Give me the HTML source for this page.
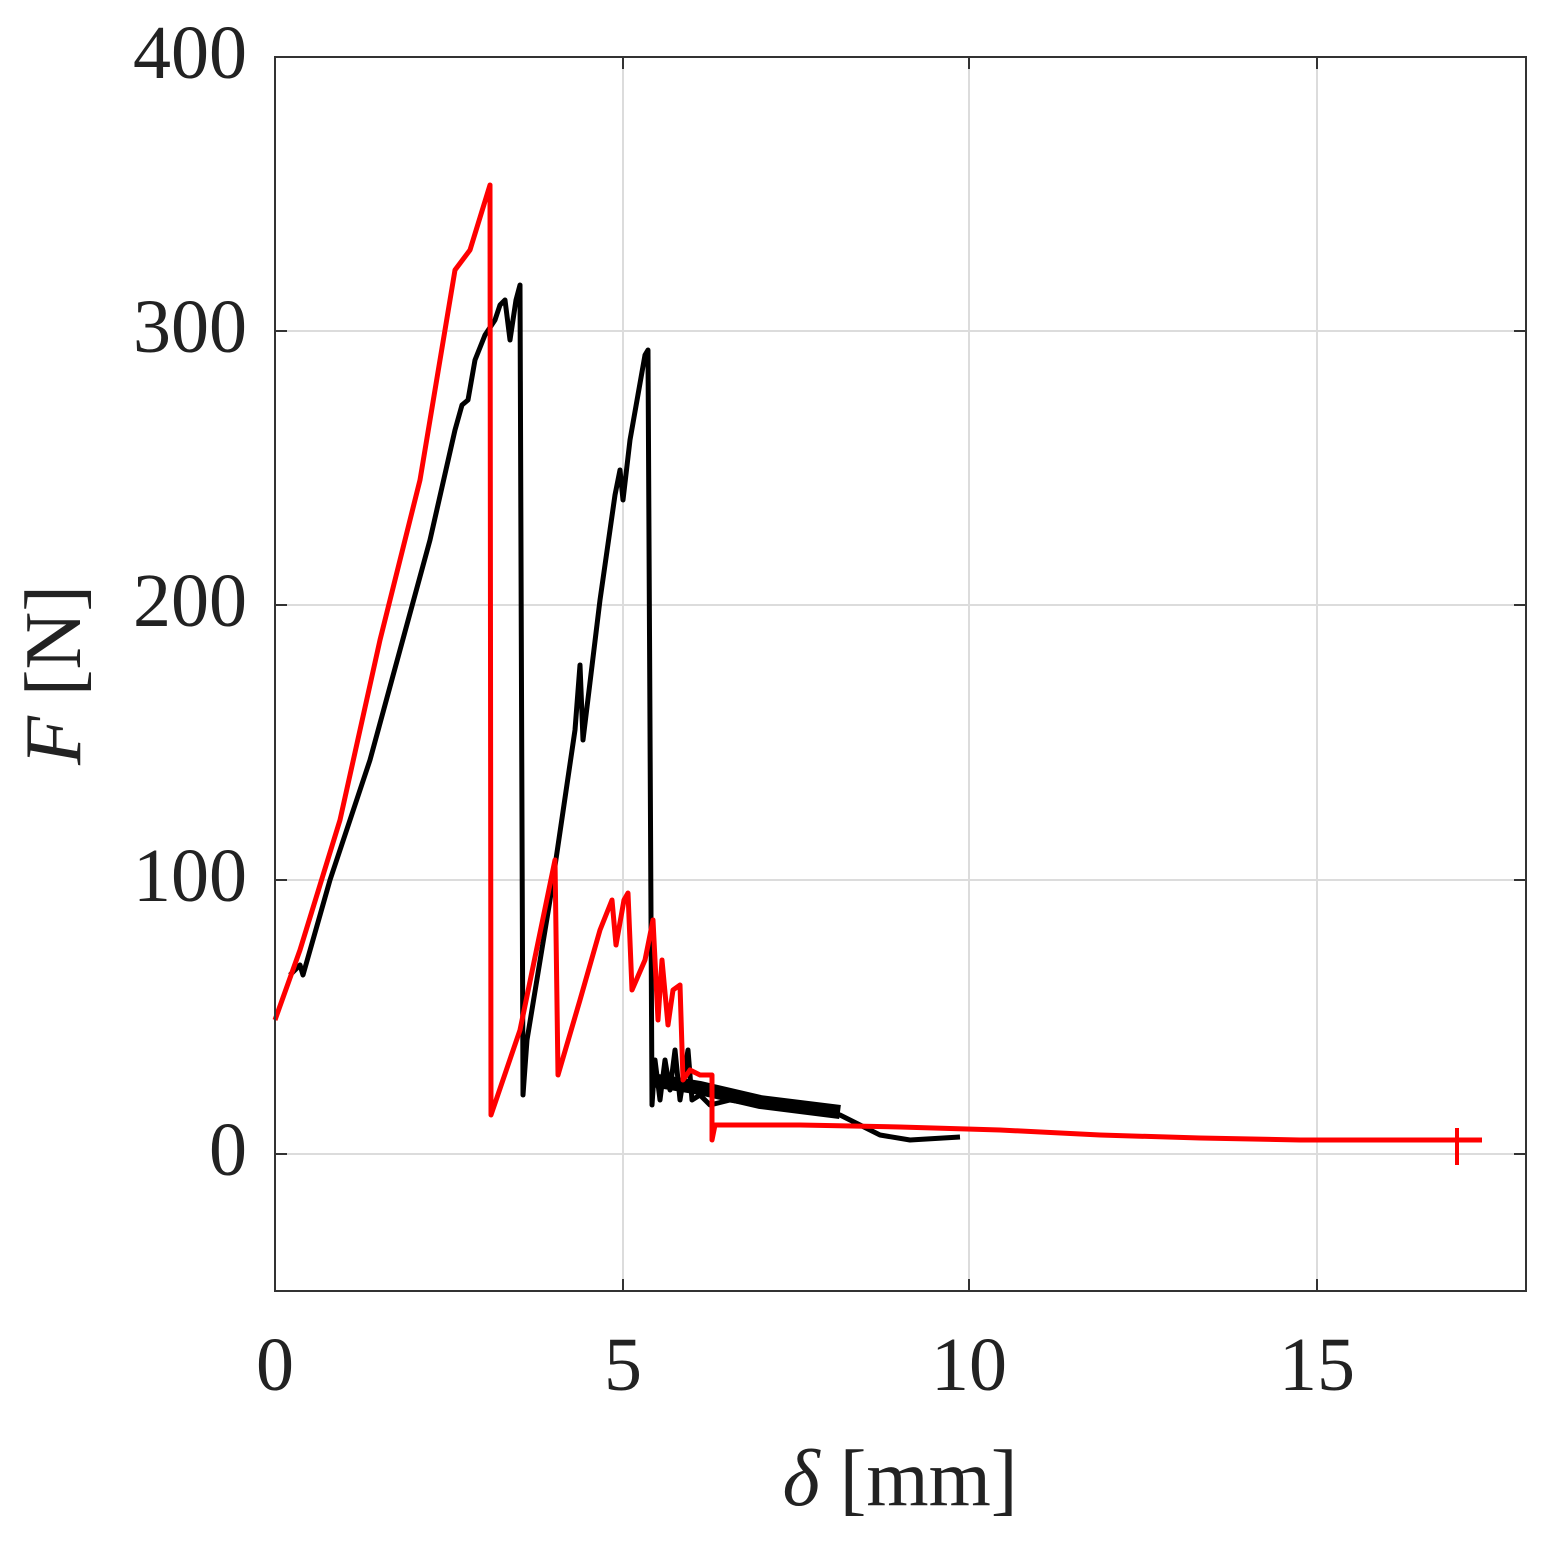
<!DOCTYPE html>
<html><head><meta charset="utf-8"><style>
html,body{margin:0;padding:0;background:#fff;}
svg{display:block;}
text{font-family:"Liberation Serif",serif;fill:#222;}
</style></head><body>
<svg width="1546" height="1552" viewBox="0 0 1546 1552" xmlns="http://www.w3.org/2000/svg">
<rect width="1546" height="1552" fill="#fff"/>
<g stroke="#dcdcdc" stroke-width="2">
<line x1="623" y1="57" x2="623" y2="1291"/>
<line x1="969" y1="57" x2="969" y2="1291"/>
<line x1="1317" y1="57" x2="1317" y2="1291"/>
<line x1="275" y1="331" x2="1526" y2="331"/>
<line x1="275" y1="605" x2="1526" y2="605"/>
<line x1="275" y1="880" x2="1526" y2="880"/>
<line x1="275" y1="1154" x2="1526" y2="1154"/>
</g>
<g stroke="#333" stroke-width="2">
<line x1="623" y1="1291" x2="623" y2="1279"/><line x1="969" y1="1291" x2="969" y2="1279"/><line x1="1317" y1="1291" x2="1317" y2="1279"/>
<line x1="623" y1="57" x2="623" y2="69"/><line x1="969" y1="57" x2="969" y2="69"/><line x1="1317" y1="57" x2="1317" y2="69"/>
<line x1="275" y1="331" x2="287" y2="331"/><line x1="275" y1="605" x2="287" y2="605"/><line x1="275" y1="880" x2="287" y2="880"/><line x1="275" y1="1154" x2="287" y2="1154"/>
<line x1="1526" y1="331" x2="1514" y2="331"/><line x1="1526" y1="605" x2="1514" y2="605"/><line x1="1526" y1="880" x2="1514" y2="880"/><line x1="1526" y1="1154" x2="1514" y2="1154"/>
</g>
<polyline fill="none" stroke="#000" stroke-width="5" stroke-linejoin="round" points="290,975 300,965 303,975 330,880 370,760 400,650 430,540 455,430 462,405 468,400 475,360 485,335 495,320 500,305 505,300 510,340 516,300 520,285 523,1095 527,1040 550,900 575,730 580,665 583,740 600,600 615,495 620,470 623,500 630,440 645,355 648,350 652,1105 655,1060 660,1100 665,1060 670,1090 675,1050 680,1100 688,1050 692,1100 700,1095 710,1105 730,1100 760,1105 800,1110 840,1115 880,1135 910,1140 960,1137"/>
<polyline fill="none" stroke="#000" stroke-width="14" points="652,1080 700,1088 760,1102 840,1112"/>
<polyline fill="none" stroke="#f00" stroke-width="5" stroke-linejoin="round" points="275,1020 300,950 340,820 380,640 420,480 445,330 455,270 470,250 490,185 491,1115 520,1030 555,860 558,1075 580,1000 600,930 612,900 616,945 624,900 628,893 632,990 645,960 653,920 658,1020 662,960 668,1025 673,990 680,985 683,1080 690,1070 700,1075 712,1075 712,1140 715,1125 800,1125 900,1127 1000,1130 1100,1135 1200,1138 1300,1140 1460,1140 1482,1140"/>
<line x1="1457" y1="1128" x2="1457" y2="1165" stroke="#f00" stroke-width="4"/>
<rect x="275" y="57" width="1251" height="1234" fill="none" stroke="#333" stroke-width="2"/>
<g font-size="76" text-anchor="end">
<text x="247" y="78">400</text>
<text x="247" y="352">300</text>
<text x="247" y="626">200</text>
<text x="247" y="901">100</text>
<text x="247" y="1175">0</text>
</g>
<g font-size="76" text-anchor="middle">
<text x="275" y="1390">0</text>
<text x="623" y="1390">5</text>
<text x="969" y="1390">10</text>
<text x="1317" y="1390">15</text>
</g>
<text x="900" y="1505" font-size="80" text-anchor="middle"><tspan font-style="italic">δ</tspan> [mm]</text>
<text transform="translate(80,675) rotate(-90)" font-size="80" text-anchor="middle"><tspan font-style="italic">F</tspan> [N]</text>
</svg>
</body></html>
